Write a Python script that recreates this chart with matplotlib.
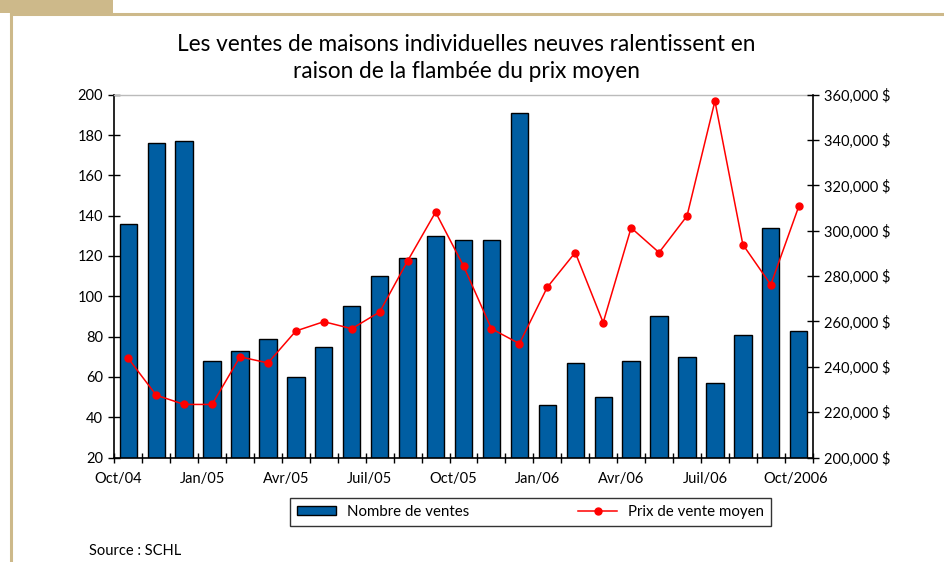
import matplotlib
matplotlib.use("Agg")
import matplotlib.pyplot as plt
from matplotlib.lines import Line2D
from matplotlib.patches import Patch, Rectangle
import matplotlib.transforms as mtransforms
import numpy as np

plt.rcParams['font.family'] = ['Lato', 'DejaVu Sans']

months = ["Oct/04", "Nov/04", "Déc/04", "Jan/05", "Fév/05", "Mar/05", "Avr/05", "Mai/05",
          "Juin/05", "Juil/05", "Août/05", "Sep/05", "Oct/05", "Nov/05", "Déc/05", "Jan/06",
          "Fév/06", "Mar/06", "Avr/06", "Mai/06", "Juin/06", "Juil/06", "Août/06", "Sep/06",
          "Oct/06"]
ventes = [136, 176, 177, 68, 73, 79, 60, 75, 95, 110, 119, 130, 128,
          128, 191, 46, 67, 50, 68, 90, 70, 57, 81, 134, 83]
prix = [243700, 227500, 223400, 223400, 244400, 241700, 255800, 259900, 256800,
        264200, 286700, 308200, 284500, 256800, 250200, 275100, 290400, 259500,
        301300, 290400, 306500, 357200, 293900, 276200, 310700]
tick_labels = ["Oct/04", "Jan/05", "Avr/05", "Juil/05", "Oct/05", "Jan/06",
               "Avr/06", "Juil/06", "Oct/2006"]
tick_label_idx = [0, 3, 6, 9, 12, 15, 18, 21, 24]

title = "Les ventes de maisons individuelles neuves ralentissent en\nraison de la flambée du prix moyen"

BAR = "#005EA2"
RED = "#FF0000"
TAN = "#CDB98A"

fig = plt.figure(figsize=(9.45, 5.62), dpi=100)
fig.patch.set_facecolor("white")

# decorative frame
fig.add_artist(Rectangle((0, 1 - 13/562), 113/945, 13/562, transform=fig.transFigure,
                         facecolor=TAN, edgecolor="none"))
fig.add_artist(Line2D([10.5/945, 1], [1 - 14/562, 1 - 14/562], transform=fig.transFigure,
                      color=TAN, lw=2.2))
fig.add_artist(Line2D([10.5/945, 10.5/945], [0, 1 - 14/562], transform=fig.transFigure,
                      color=TAN, lw=2.2))

ax = fig.add_axes([114.3/945, 1 - 457.5/562, (812.7 - 114.3)/945, (457.5 - 94.7)/562])
x = np.arange(len(months))
ax.bar(x, ventes, width=0.62, color=BAR, edgecolor="black", linewidth=1.0, zorder=2)
ax.set_xlim(-0.5, len(months) - 0.5)
ax.set_ylim(20, 200)
ax.set_yticks(np.arange(20, 201, 20))
ax.tick_params(axis='y', direction='inout', length=8, width=1, labelsize=10.5, pad=4)

ax.set_xticks(np.arange(-0.5, len(months), 1))
ax.set_xticklabels([])
ax.tick_params(axis='x', direction='inout', length=7, width=1)
offs = [0.15] * len(tick_labels)
offs[-1] = 0.4
lab_tr = ax.transData + mtransforms.ScaledTranslation(0, -14/100, fig.dpi_scale_trans)
for lab, i, o in zip(tick_labels, tick_label_idx, offs):
    ax.text(i - 0.5 + o, 20, lab, transform=lab_tr, ha='center', va='top',
            fontsize=10.5, clip_on=False)

for s in ["left", "bottom"]:
    ax.spines[s].set_linewidth(1.2)
    ax.spines[s].set_color("black")
ax.spines["top"].set_color("#BBBBBB")
ax.spines["top"].set_linewidth(1)
ax.spines["right"].set_visible(False)

ax2 = ax.twinx()
ax2.plot(x, prix, color=RED, lw=1.1, marker='o', markersize=5, zorder=3)
ax2.set_ylim(200000, 360000)
ax2.set_yticks(np.arange(200000, 360001, 20000))
ax2.set_yticklabels([f"{v:,} $" for v in range(200000, 360001, 20000)])
ax2.tick_params(axis='y', direction='inout', length=8, width=1, labelsize=10.5, pad=4)
ax2.spines["right"].set_linewidth(1.2)
ax2.spines["right"].set_color("black")
for s in ["left", "top", "bottom"]:
    ax2.spines[s].set_visible(False)

fig.text(466/945, 1 - 58/562, title, ha='center', va='center', fontsize=16.3,
         linespacing=1.3)

handles = [Patch(facecolor=BAR, edgecolor="black", linewidth=1),
           Line2D([], [], color=RED, lw=1.1, marker='o', markersize=5)]
leg = fig.legend(handles, ["Nombre de ventes", "Prix de vente moyen"], ncol=2,
                 loc='center', bbox_to_anchor=(530.5/945, 1 - 512/562),
                 fontsize=10.8, frameon=True, fancybox=False, edgecolor="black",
                 handlelength=2.6, handleheight=0.55, columnspacing=7.3,
                 borderpad=0.45, handletextpad=0.7, borderaxespad=0)
leg.get_frame().set_linewidth(1)

fig.text(89/945, 1 - 551/562, "Source : SCHL", ha='left', va='center', fontsize=10.5)

fig.savefig("out.png", dpi=100, facecolor="white")
